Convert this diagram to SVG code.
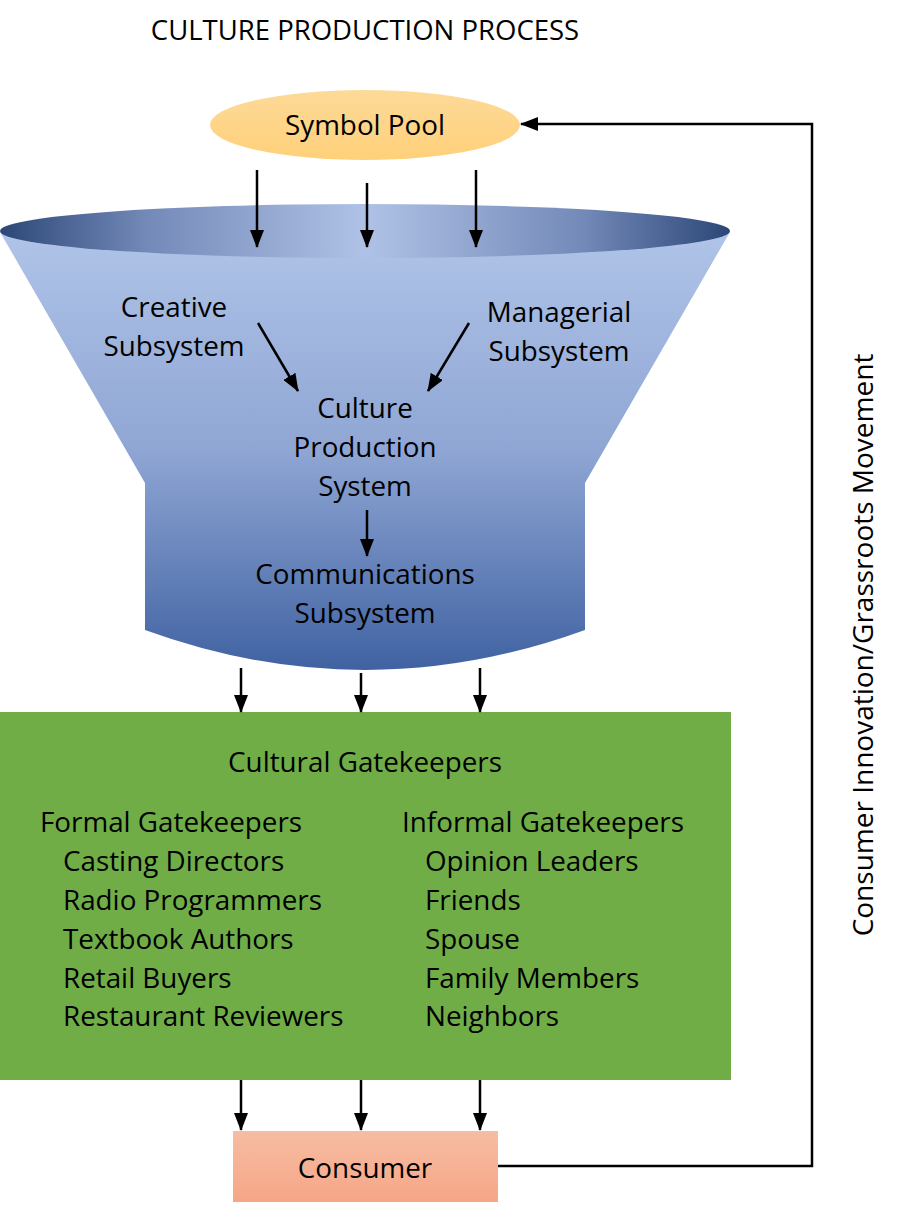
<svg xmlns="http://www.w3.org/2000/svg" width="900" height="1220" viewBox="0 0 900 1220">
<style>
text{font-family:"Open Sans","Liberation Sans",sans-serif;fill:#000;}
.t{font-size:27.8px;text-anchor:middle;}
.l{font-size:27.8px;}
.c{stroke:#000;stroke-width:2.5;fill:none;}
</style>
<defs>
<marker id="ah" viewBox="0 0 18 14" refX="17" refY="7" markerWidth="18" markerHeight="14" markerUnits="userSpaceOnUse" orient="auto">
<path d="M0,0 L18,7 L0,14 z" fill="#000"/>
</marker>
<linearGradient id="gPool" x1="0" y1="0" x2="0" y2="1"><stop offset="0" stop-color="#FDDA98"/><stop offset="1" stop-color="#FFD07A"/></linearGradient>
<linearGradient id="gRim" x1="0" y1="0" x2="1" y2="0"><stop offset="0" stop-color="#2C4776"/><stop offset="0.2" stop-color="#7389B8"/><stop offset="0.5" stop-color="#AFC2E6"/><stop offset="0.8" stop-color="#7389B8"/><stop offset="1" stop-color="#2C4776"/></linearGradient>
<linearGradient id="gBody" x1="0" y1="0" x2="0" y2="1"><stop offset="0" stop-color="#B0C4E8"/><stop offset="0.5" stop-color="#8FA6D4"/><stop offset="1" stop-color="#4062A2"/></linearGradient>
<linearGradient id="gCons" x1="0" y1="0" x2="0" y2="1"><stop offset="0" stop-color="#F6BDA3"/><stop offset="1" stop-color="#F6A687"/></linearGradient>
</defs>
<rect width="900" height="1220" fill="#fff"/>
<text x="365" y="40" style="font-size:27.5px;text-anchor:middle">CULTURE PRODUCTION PROCESS</text>

<g id="funnel">
<path d="M0,232 L730,232 L585,483 L585,630 Q365,710 145,630 L145,483 Z" fill="url(#gBody)"/>
<ellipse cx="365" cy="231" rx="365" ry="27" fill="url(#gRim)"/>
<text class="t" x="174" y="317">Creative</text>
<text class="t" x="174" y="356">Subsystem</text>
<text class="t" x="559" y="322">Managerial</text>
<text class="t" x="559" y="361">Subsystem</text>
<text class="t" x="365" y="418">Culture</text>
<text class="t" x="365" y="457">Production</text>
<text class="t" x="365" y="496">System</text>
<text class="t" x="365" y="584">Communications</text>
<text class="t" x="365" y="623">Subsystem</text>
</g>

<g id="symbol-pool">
<ellipse cx="365" cy="125" rx="155" ry="35" fill="url(#gPool)"/>
<text class="t" x="365" y="135">Symbol Pool</text>
</g>

<g id="gatekeepers">
<rect x="0" y="712" width="731" height="368" fill="#70AD47"/>
<text class="t" x="365" y="772">Cultural Gatekeepers</text>
<text class="l" x="40" y="832">Formal Gatekeepers</text>
<text class="l" x="63" y="871">Casting Directors</text>
<text class="l" x="63" y="910">Radio Programmers</text>
<text class="l" x="63" y="949">Textbook Authors</text>
<text class="l" x="63" y="988">Retail Buyers</text>
<text class="l" x="63" y="1026">Restaurant Reviewers</text>
<text class="l" x="402" y="832">Informal Gatekeepers</text>
<text class="l" x="425" y="871">Opinion Leaders</text>
<text class="l" x="425" y="910">Friends</text>
<text class="l" x="425" y="949">Spouse</text>
<text class="l" x="425" y="988">Family Members</text>
<text class="l" x="425" y="1026">Neighbors</text>
</g>

<g id="consumer">
<rect x="233" y="1131" width="265" height="71" fill="url(#gCons)"/>
<text class="t" x="365" y="1178">Consumer</text>
</g>

<g id="connectors">
<line class="c" x1="257" y1="170" x2="257" y2="247" marker-end="url(#ah)"/>
<line class="c" x1="367" y1="183" x2="367" y2="247" marker-end="url(#ah)"/>
<line class="c" x1="476" y1="170" x2="476" y2="247" marker-end="url(#ah)"/>
<line class="c" x1="258" y1="323" x2="298" y2="391" marker-end="url(#ah)"/>
<line class="c" x1="469" y1="323" x2="428" y2="391" marker-end="url(#ah)"/>
<line class="c" x1="367" y1="510" x2="367" y2="556" marker-end="url(#ah)"/>
<line class="c" x1="241" y1="668" x2="241" y2="712" marker-end="url(#ah)"/>
<line class="c" x1="361" y1="673" x2="361" y2="712" marker-end="url(#ah)"/>
<line class="c" x1="480" y1="668" x2="480" y2="712" marker-end="url(#ah)"/>
<line class="c" x1="241" y1="1080" x2="241" y2="1130" marker-end="url(#ah)"/>
<line class="c" x1="361" y1="1080" x2="361" y2="1130" marker-end="url(#ah)"/>
<line class="c" x1="480" y1="1080" x2="480" y2="1130" marker-end="url(#ah)"/>
<polyline class="c" points="498,1166 812,1166 812,124 521,124" marker-end="url(#ah)"/>
<text transform="translate(873,645) rotate(-90)" style="font-size:28px;text-anchor:middle">Consumer Innovation/Grassroots Movement</text>
</g>
</svg>
